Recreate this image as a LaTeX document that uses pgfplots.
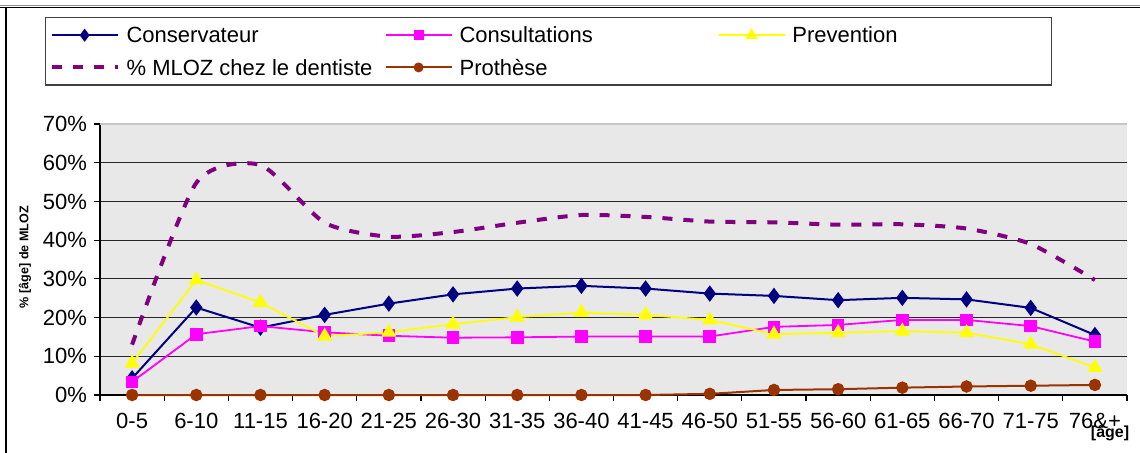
\documentclass[border=0pt]{standalone}
\usepackage{fontspec}
\setmainfont{Liberation Sans}
\usepackage{pgfplots}
\pgfplotsset{compat=1.18}
\definecolor{plotbg}{RGB}{232,232,232}
\definecolor{cons}{RGB}{0,0,128}
\definecolor{consu}{RGB}{255,0,255}
\definecolor{prev}{RGB}{255,255,0}
\definecolor{mloz}{RGB}{128,0,128}
\definecolor{proth}{RGB}{153,51,0}
\begin{document}
\begin{tikzpicture}
\begin{axis}[
  at={(0,0)}, anchor=south west,
  scale only axis, width=513.5pt, height=135.5pt,
  xmin=-0.5, xmax=15.5, ymin=0, ymax=70,
  clip=false,
  axis x line*=bottom, axis y line*=left,
  axis line style={black, line width=0.6pt},
  axis background/.style={fill=plotbg},
  tick align=outside,
  major tick length=3pt, minor tick length=3pt,
  tick style={black, line width=0.6pt},
  xtick={0,...,15},
  xticklabels={0-5,6-10,11-15,16-20,21-25,26-30,31-35,36-40,41-45,46-50,51-55,56-60,61-65,66-70,71-75,76\&+},
  major x tick style={draw=none},
  minor xtick={-0.5,0.5,...,15.5},
  ytick={0,10,...,60},
  yticklabels={0\%,10\%,20\%,30\%,40\%,50\%,60\%},
  extra y ticks={70}, extra y tick labels={70\%},
  extra y tick style={grid style={black!22, line width=0.8pt}},
  ymajorgrids=true,
  grid style={black!85, line width=0.6pt},
  /pgf/number format/assume math mode=true,
  ticklabel style={font=\fontsize{11}{13}\selectfont},
  xticklabel style={yshift=-2.5pt},
  every axis y label/.style={at={(axis description cs:-0.073,0.509)}, rotate=90, anchor=center, font=\bfseries\fontsize{6.3}{7.5}\selectfont},
  every axis x label/.style={at={(axis description cs:0.9835,-0.1400)}, anchor=center, font=\bfseries\fontsize{8}{9}\selectfont},
  ylabel={\% [âge] de MLOZ},
  xlabel={[âge]},
  legend columns=3,
  legend cell align=left,
  legend style={at={(axis description cs:-0.05355,1.3948)}, anchor=north west,
    draw=black!75, line width=0.6pt, fill=white,
    inner xsep=2pt, inner ysep=3.5pt, row sep=5.5pt, column sep=0pt,
    nodes={inner sep=0pt, font=\fontsize{11}{13}\selectfont},
    /tikz/every odd column/.append style={column sep=3.5pt}},
  legend image code/.code={\draw[mark repeat=2,mark phase=2,#1,every mark/.append style={scale=0.75}] plot coordinates {(0pt,0pt) (16.5pt,0pt) (33pt,0pt)};},
]
\addplot[cons, line width=1pt, mark=diamond*, mark size=3.3pt, mark options={solid, fill=cons}] coordinates {
(0,4.3) (1,22.6) (2,17.4) (3,20.7) (4,23.6) (5,26.0) (6,27.5) (7,28.2) (8,27.5) (9,26.2) (10,25.6) (11,24.5) (12,25.1) (13,24.7) (14,22.5) (15,15.5)};
\addlegendentry{\makebox[129pt][l]{\strut Conservateur}}
\addplot[consu, line width=0.9pt, mark=square*, mark size=2.7pt, mark options={solid, fill=consu}] coordinates {
(0,3.4) (1,15.7) (2,17.8) (3,16.2) (4,15.3) (5,14.8) (6,14.9) (7,15.1) (8,15.1) (9,15.1) (10,17.6) (11,18.1) (12,19.4) (13,19.4) (14,17.8) (15,13.8)};
\addlegendentry{\makebox[129pt][l]{\strut Consultations}}
\addplot[prev, line width=0.9pt, mark=triangle*, mark size=3.5pt, mark options={solid, fill=prev}] coordinates {
(0,8.2) (1,29.7) (2,23.9) (3,15.2) (4,16.2) (5,18.3) (6,20.1) (7,21.3) (8,20.7) (9,19.4) (10,15.7) (11,16.1) (12,16.5) (13,16.1) (14,13.1) (15,7.1)};
\addlegendentry{\makebox[127.5pt][l]{\strut Prevention}}
\addplot[mloz, line width=2pt, dash pattern=on 5pt off 5.5pt, smooth, tension=0.4] coordinates {
(0,13.0) (1,54.8) (2,59.4) (3,44.5) (4,40.9) (5,42.1) (6,44.5) (7,46.5) (8,46.0) (9,44.8) (10,44.6) (11,44.0) (12,44.1) (13,43.0) (14,39.0) (15,29.7)};
\addlegendentry{\makebox[129pt][l]{\strut \% MLOZ chez le dentiste}}
\addplot[proth, line width=1pt, mark=*, mark size=2.6pt, mark options={solid, fill=proth}] coordinates {
(0,0) (1,0) (2,0) (3,0) (4,0) (5,0) (6,0) (7,0) (8,0) (9,0.3) (10,1.3) (11,1.5) (12,1.9) (13,2.2) (14,2.4) (15,2.6)};
\addlegendentry{\makebox[129pt][l]{\strut Prothèse}}
\end{axis}
\draw[black!45, line width=0.5pt] (-50pt,194.75pt) -- (520pt,194.75pt);
\draw[black, line width=0.6pt] (-50pt,193.75pt) -- (520pt,193.75pt);
\draw[black, line width=0.8pt] (-47pt,-30pt) -- (-47pt,193.75pt);
\pgfresetboundingbox
\path[use as bounding box] (-50pt,-28.5pt) rectangle (520pt,197.5pt);
\end{tikzpicture}
\end{document}
